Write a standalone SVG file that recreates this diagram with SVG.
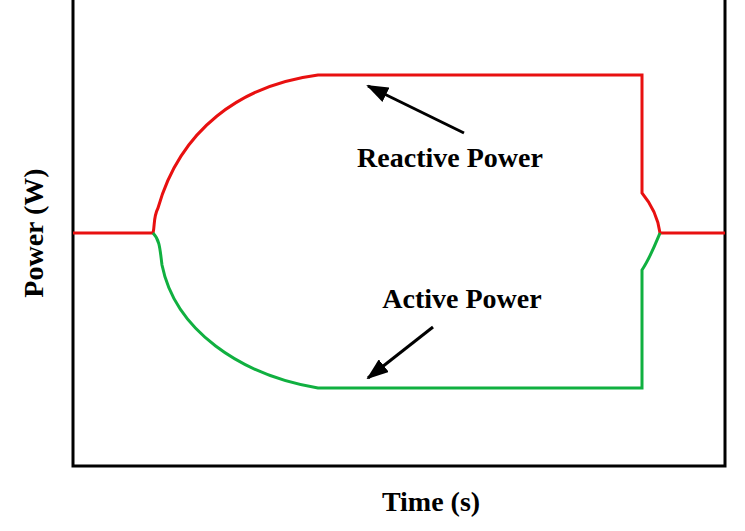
<svg xmlns="http://www.w3.org/2000/svg" width="745" height="531" viewBox="0 0 745 531">
<style>
.ax{fill:none;stroke:#000;stroke-width:3}
.r{fill:none;stroke:#e81010;stroke-width:3}
.g{fill:none;stroke:#10b040;stroke-width:3}
.t{font-family:"Liberation Serif",serif;font-weight:bold;font-size:28px;fill:#000}
</style>
<defs><marker id="ah2" markerWidth="22" markerHeight="16" refX="20" refY="8" orient="auto" markerUnits="userSpaceOnUse"><path d="M0,0 L22,8 L0,16 z" fill="#000"/></marker></defs>
<g id="axes"><path class="ax" d="M73,0 V466 H725 V0"/></g>
<g id="connectors">
<path class="r" d="M73,233 H153 C155,226 153,218 158,208 C180,130 240,85 318,75 H642 V193 C652,205 658,218 660,233 H725"/>
<path class="g" d="M153,233 C160,240 160,250 162,265 C175,330 240,375 318,388 H642 V270 C650,258 655,245 660,233"/>
<line x1="464" y1="133" x2="368" y2="86" stroke="#000" stroke-width="3" marker-end="url(#ah2)"/>
<line x1="433" y1="327" x2="368" y2="378" stroke="#000" stroke-width="3" marker-end="url(#ah2)"/>
</g>
<g id="labels">
<text class="t" x="450" y="167" text-anchor="middle">Reactive Power</text>
<text class="t" x="462" y="308" text-anchor="middle">Active Power</text>
<text class="t" x="431" y="511" text-anchor="middle">Time (s)</text>
<text class="t" x="0" y="0" text-anchor="middle" transform="translate(43,233) rotate(-90)">Power (W)</text>
</g>
</svg>
